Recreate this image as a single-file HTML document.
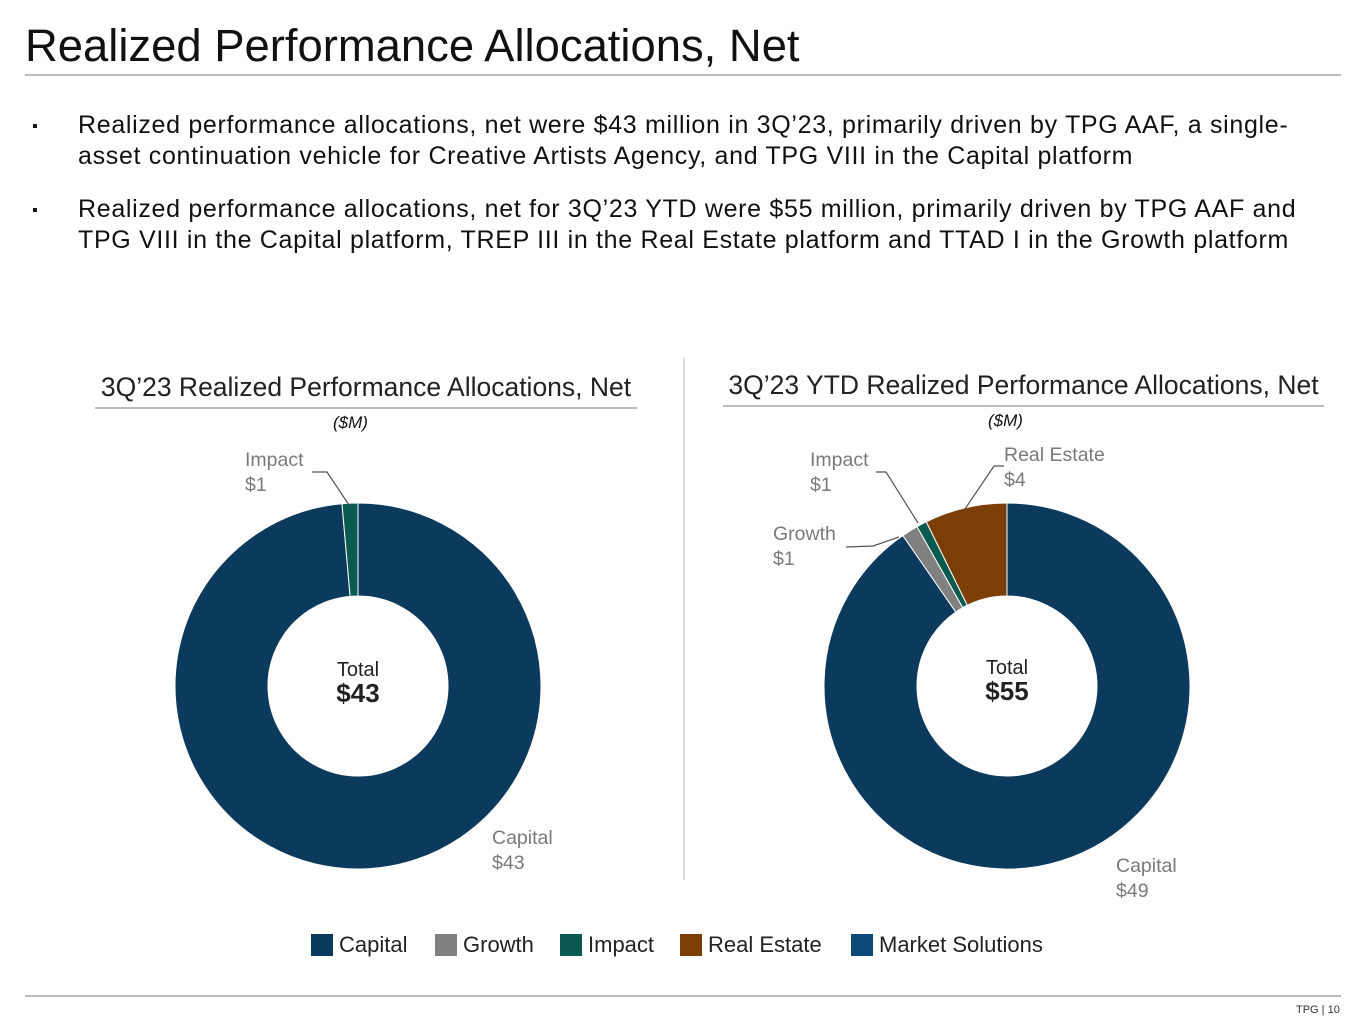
<!DOCTYPE html>
<html><head><meta charset="utf-8"><style>
body{margin:0;width:1365px;height:1024px;background:#fff;font-family:"Liberation Sans",sans-serif;position:relative;overflow:hidden;color:#111}
.abs{position:absolute}
.bul{position:absolute;left:78px;font-size:25px;line-height:31px;letter-spacing:0.68px;white-space:nowrap;color:#111}
.dot{position:absolute;left:32px;font-size:16px}
.ct{position:absolute;font-size:26.5px;text-align:center;color:#222;white-space:nowrap}
.lbl{position:absolute;font-size:19.5px;line-height:25px;color:#7a7a7a}
.leg{position:absolute;top:932px;font-size:22px;display:flex;align-items:center;gap:6px;color:#222}
.sw{width:22px;height:22px;display:inline-block}
</style></head><body>
<div class="abs" style="left:25px;top:20px;font-size:45.4px;color:#111">Realized Performance Allocations, Net</div>
<div class="abs" style="left:25px;top:74px;width:1316px;height:2px;background:#bbb"></div>
<div class="dot" style="top:118px">▪</div>
<div class="bul" style="top:110px">Realized performance allocations, net were $43 million in 3Q’23, primarily driven by TPG AAF, a single-<br>asset continuation vehicle for Creative Artists Agency, and TPG VIII in the Capital platform</div>
<div class="dot" style="top:202px">▪</div>
<div class="bul" style="top:194px">Realized performance allocations, net for 3Q’23 YTD were $55 million, primarily driven by TPG AAF and<br>TPG VIII in the Capital platform, TREP III in the Real Estate platform and TTAD I in the Growth platform</div>

<div class="ct" style="left:95px;top:372px;width:542px;padding-bottom:4px;border-bottom:2px solid #bbb">3Q’23 Realized Performance Allocations, Net</div>
<div class="abs" style="left:333px;top:413px;font-size:17px;font-style:italic">($M)</div>
<div class="ct" style="left:723px;top:370px;width:601px;padding-bottom:4px;border-bottom:2px solid #bbb">3Q’23 YTD Realized Performance Allocations, Net</div>
<div class="abs" style="left:988px;top:411px;font-size:17px;font-style:italic">($M)</div>
<div class="abs" style="left:683px;top:358px;width:2px;height:522px;background:#ddd"></div>

<svg class="abs" style="left:0;top:0" width="1365" height="1024" id="svg"></svg>

<div class="lbl" style="left:245px;top:448px">Impact<br>$1</div>
<div class="lbl" style="left:492px;top:826px">Capital<br>$43</div>
<div class="lbl" style="left:810px;top:448px">Impact<br>$1</div>
<div class="lbl" style="left:1004px;top:443px">Real Estate<br>$4</div>
<div class="lbl" style="left:773px;top:522px">Growth<br>$1</div>
<div class="lbl" style="left:1116px;top:854px">Capital<br>$49</div>

<div class="ct" style="left:308px;top:659px;width:100px;font-size:20px;line-height:23px">Total<br><b style="font-size:26px">$43</b></div>
<div class="ct" style="left:957px;top:657px;width:100px;font-size:20px;line-height:23px">Total<br><b style="font-size:26px">$55</b></div>

<div class="leg" style="left:311px"><span class="sw" style="background:#0b3a5c"></span>Capital</div>
<div class="leg" style="left:435px"><span class="sw" style="background:#808080"></span>Growth</div>
<div class="leg" style="left:560px"><span class="sw" style="background:#0b5a50"></span>Impact</div>
<div class="leg" style="left:680px"><span class="sw" style="background:#7b3f06"></span>Real Estate</div>
<div class="leg" style="left:851px"><span class="sw" style="background:#0d4a7a"></span>Market Solutions</div>

<div class="abs" style="left:25px;top:995px;width:1316px;height:2px;background:#bbb"></div>
<div class="abs" style="left:1296px;top:1004px;font-size:11px;color:#333">TPG | 10</div>

<script>
const categories1 = ["Capital","Impact"];
const values1 = [42.4, 0.6];
const colors1 = ["#0b3a5c","#0b5a50"];
const categories2 = ["Capital","Growth","Impact","Real Estate"];
const values2 = [49.7, 0.8, 0.5, 4.0];
const colors2 = ["#0b3a5c","#808080","#0b5a50","#7b3f06"];
const svg = document.getElementById('svg');
const NS = "http://www.w3.org/2000/svg";
function pt(cx,cy,r,a){return [cx+r*Math.sin(a), cy-r*Math.cos(a)];}
function donut(cx,cy,R,r,vals,cols,cats){
  const tot = vals.reduce((a,b)=>a+b,0);
  let a0 = 0;
  vals.forEach((v,i)=>{
    const a1 = a0 + v/tot*2*Math.PI;
    const large = (a1-a0)>Math.PI?1:0;
    const p1=pt(cx,cy,R,a0),p2=pt(cx,cy,R,a1),p3=pt(cx,cy,r,a1),p4=pt(cx,cy,r,a0);
    const p=document.createElementNS(NS,'path');
    p.setAttribute('d',`M${p1}A${R},${R} 0 ${large} 1 ${p2}L${p3}A${r},${r} 0 ${large} 0 ${p4}Z`);
    p.setAttribute('fill',cols[i]);
    p.setAttribute('stroke','#fff');
    p.setAttribute('stroke-width','1');
    
    
    svg.appendChild(p);
    a0=a1;
  });
}
donut(358,686,183,90,values1,colors1,categories1);
donut(1007,686,183,90,values2,colors2,categories2);
function line(pts){
  const l=document.createElementNS(NS,'polyline');
  l.setAttribute('points',pts);
  l.setAttribute('fill','none');l.setAttribute('stroke','#555');l.setAttribute('stroke-width','1.2');
  
  
  svg.appendChild(l);
}
line("312,472 327,472 349,505");
line("876,472 886,472 918,523");
line("1004,466 994,466 965,509");
line("846,547 873,546 899,537");
</script>
</body></html>
